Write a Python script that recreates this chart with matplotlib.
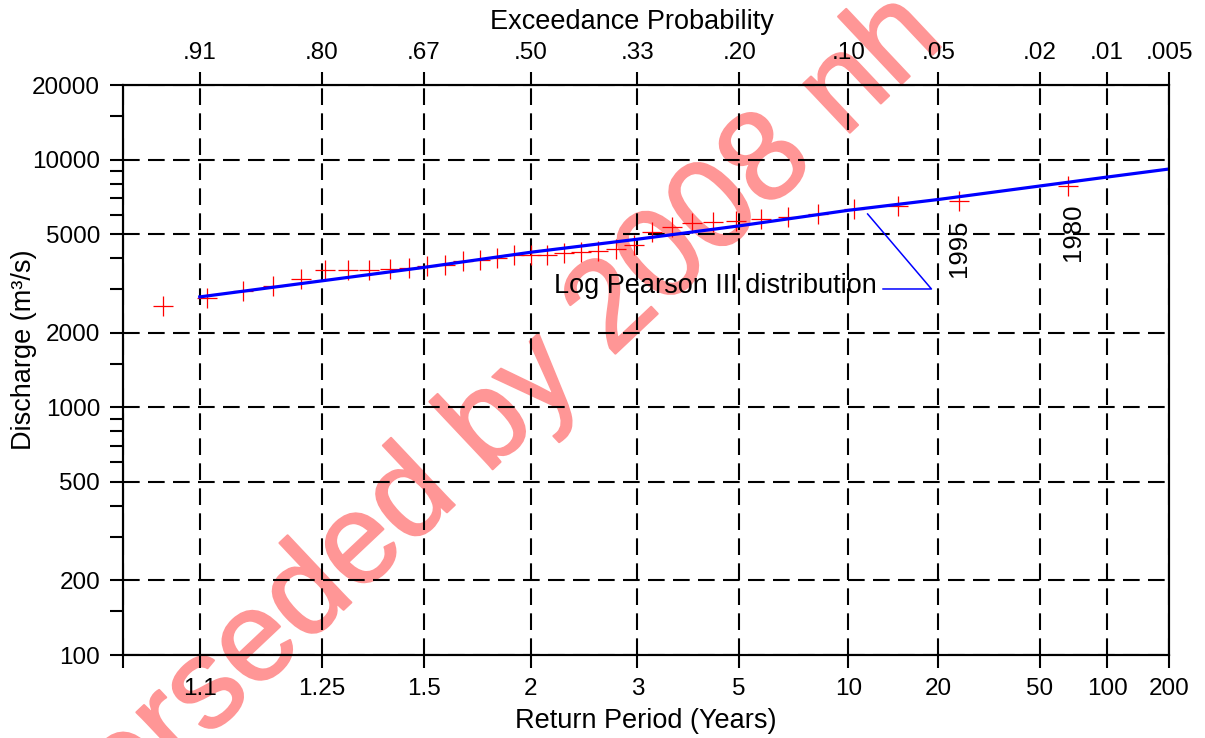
import math
from statistics import NormalDist

import numpy as np
import matplotlib
matplotlib.use('Agg')
import matplotlib.pyplot as plt
import matplotlib.patheffects as pe

plt.rcParams['font.family'] = ['Liberation Sans', 'DejaVu Sans']

# observed annual peaks (plotting position return period, discharge m3/s)
obs_return_period = [66.3, 23.8, 14.5, 10.43, 8.14, 6.68, 5.66, 4.91, 4.34, 3.88,
                     3.52, 3.21, 2.955, 2.737, 2.549, 2.386, 2.242, 2.114, 2.0, 1.898,
                     1.805, 1.722, 1.645, 1.576, 1.511, 1.452, 1.398, 1.347, 1.300, 1.256,
                     1.215, 1.176, 1.140, 1.106, 1.074]
obs_discharge = [7820, 6800, 6500, 6300, 6030, 5850, 5760, 5640, 5620, 5530,
                 5360, 5120, 4520, 4340, 4280, 4250, 4190, 4130, 4120, 4110,
                 4010, 3930, 3900, 3740, 3720, 3640, 3620, 3580, 3575, 3570,
                 3300, 3090, 2950, 2750, 2565]

# fitted Log Pearson III curve
lp3_return_period = [1.1, 1.25, 1.5, 2, 3, 5, 10, 20, 50, 100, 200]
lp3_discharge = [2790, 3240, 3670, 4225, 4770, 5400, 6240, 6900, 7820, 8500, 9160]

return_period_ticks = [1.1, 1.25, 1.5, 2, 3, 5, 10, 20, 50, 100, 200]
return_period_labels = ['1.1', '1.25', '1.5', '2', '3', '5', '10', '20', '50', '100', '200']
exceedance_labels = ['.91', '.80', '.67', '.50', '.33', '.20', '.10', '.05', '.02', '.01', '.005']

discharge_ticks = [100, 200, 500, 1000, 2000, 5000, 10000, 20000]
discharge_minor = [150, 300, 400, 600, 700, 800, 900, 1500, 3000, 4000,
                   6000, 7000, 8000, 9000, 15000]

_nd = NormalDist()
_inv_cdf = np.vectorize(_nd.inv_cdf, otypes=[float])
_erfc = np.vectorize(math.erfc, otypes=[float])


def fwd(T):
	# return period -> standard normal variate of non-exceedance
	T = np.clip(np.asarray(T, dtype=float), 1.0 + 1e-9, 1e12)
	p = np.clip(1.0 - 1.0 / T, 1e-12, 1 - 1e-12)
	return _inv_cdf(p)


def inv(z):
	z = np.clip(np.asarray(z, dtype=float), -7, 7)
	q = 0.5 * _erfc(z / math.sqrt(2.0))
	return 1.0 / np.clip(q, 1e-15, None)


x_lim = (1 / 0.95, 200)
tick_fs = 17.5
label_fs = 19.5
lw = 1.5

fig = plt.figure(figsize=(12.05, 7.38), dpi=100)
ax = fig.add_axes([123 / 1205, 83 / 738, 1046 / 1205, 570 / 738])
ax.set_facecolor('none')

ax.set_xscale('function', functions=(fwd, inv))
ax.set_yscale('log')
ax.set_xlim(x_lim)
ax.set_ylim(100, 20000)

ax.set_xticks([x_lim[0]] + return_period_ticks, [''] + return_period_labels)
ax.set_xticks([], minor=True)
ax.set_yticks(discharge_ticks, [str(v) for v in discharge_ticks])
ax.set_yticks(discharge_minor, [''] * len(discharge_minor), minor=True)

ax.grid(True, which='major', color='black', linestyle=(0, (8, 4)), linewidth=lw)

ax.plot(obs_return_period, obs_discharge, linestyle='none', marker='+',
        markersize=14.5, markeredgewidth=0.9, color='red', zorder=3)
ax.plot(lp3_return_period, lp3_discharge, color='blue', linewidth=2.3, zorder=4)

# label and leader line for the fitted curve
ax.text(12.3, 2893, 'Log Pearson III distribution', fontsize=label_fs,
        ha='right', va='baseline', zorder=5)
ax.plot([12.9, 18.9, 11.5], [3003, 3003, 6031], color='blue', linewidth=1.1, zorder=5)

ax.annotate('1995', (obs_return_period[1], obs_discharge[1]), xytext=(0, -34),
            textcoords='offset points', rotation=90, ha='center', va='center', fontsize=18.5)
ax.annotate('1980', (obs_return_period[0], obs_discharge[0]), xytext=(4, -33),
            textcoords='offset points', rotation=90, ha='center', va='center', fontsize=18.5)

for s in ax.spines.values():
	s.set_linewidth(lw)
ax.tick_params(axis='both', which='both', direction='out', length=9.4, width=lw,
               labelsize=tick_fs, pad=7)
ax.tick_params(axis='x', top=False)
ax.tick_params(axis='y', right=False)

ax.set_xlabel('Return Period (Years)', fontsize=label_fs)
ax.xaxis.set_label_coords(0.5, -0.093)
ax.set_ylabel('Discharge (m³/s)', fontsize=label_fs)
ax.yaxis.set_label_coords(-0.082, 0.535)

# exceedance probability along the top
ax2 = ax.twiny()
ax2.set_xscale('function', functions=(fwd, inv))
ax2.set_xlim(x_lim)
ax2.set_xticks(return_period_ticks, exceedance_labels)
ax2.set_xticks([], minor=True)
ax2.tick_params(axis='x', direction='out', length=9.4, width=lw, labelsize=tick_fs, pad=5.5)
for s in ax2.spines.values():
	s.set_linewidth(lw)
ax2.set_xlabel('Exceedance Probability', fontsize=label_fs)
ax2.xaxis.set_label_coords(0.487, 1.099)

# watermark (behind the axes content)
wm_color = '#ff9696'
fig.text(430 / 1205, 1 - 483 / 738, 'Superseded by 2008 nh', fontsize=92,
         color=wm_color, rotation=43.3, rotation_mode='anchor',
         ha='center', va='center', zorder=-1,
         path_effects=[pe.withStroke(linewidth=1.5, foreground=wm_color)])

fig.savefig('out.png', dpi=100)
